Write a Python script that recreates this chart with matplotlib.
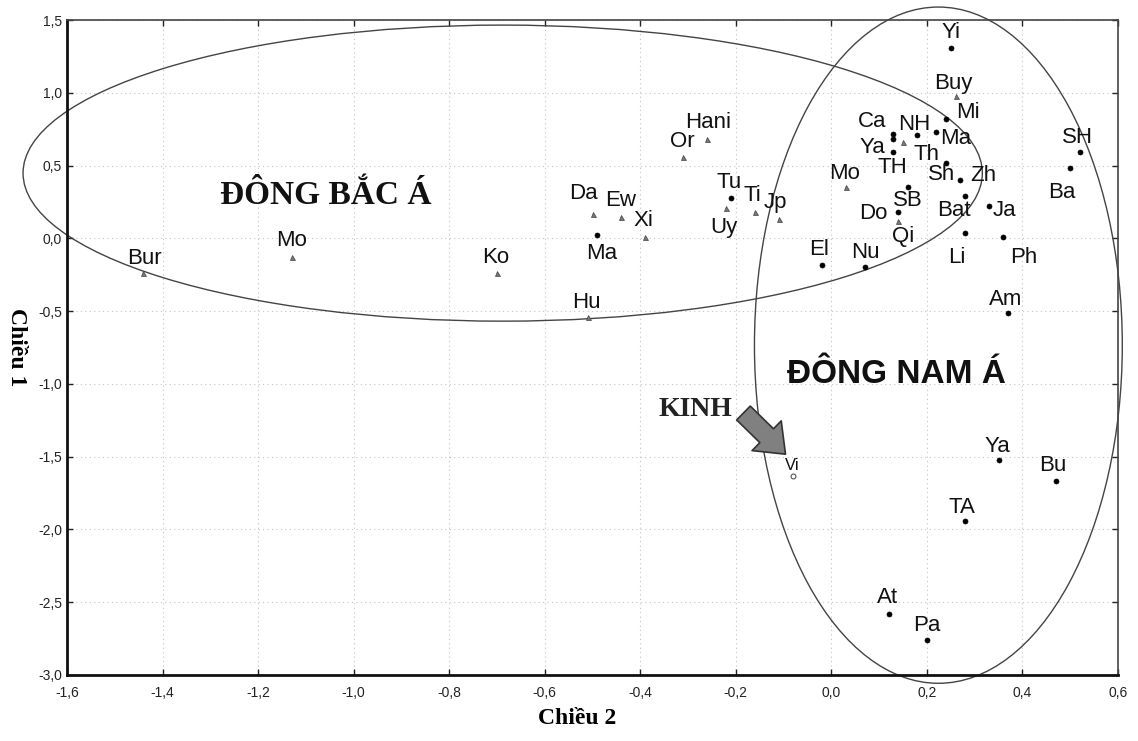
import matplotlib
matplotlib.use("Agg")
import matplotlib.pyplot as plt
from matplotlib.patches import Ellipse
from matplotlib.ticker import FuncFormatter, MultipleLocator

# population codes, coordinates on the two MDS dimensions, marker group
names = ["Bur", "Mo", "Ko", "Hu", "Da", "Ew", "Xi", "Ma", "Hani", "Or",
         "Tu", "Uy", "Ti", "Jp",
         "Yi", "Buy", "Mi", "Ca", "NH", "Ma", "Ya", "Th", "TH", "Sh",
         "Zh", "SB", "Bat", "Do", "Qi", "Li", "Nu", "Ja", "Ph", "El",
         "Mo", "SH", "Ba", "Am", "Vi", "Ya", "Bu", "TA", "At", "Pa"]
dim2 = [-1.44, -1.13, -0.70, -0.51, -0.50, -0.44, -0.39, -0.49, -0.26, -0.31,
        -0.21, -0.22, -0.16, -0.11,
        0.25, 0.26, 0.24, 0.13, 0.18, 0.22, 0.13, 0.15, 0.13, 0.24,
        0.27, 0.16, 0.28, 0.14, 0.14, 0.28, 0.07, 0.33, 0.36, -0.02,
        0.03, 0.52, 0.50, 0.37, -0.08, 0.35, 0.47, 0.28, 0.12, 0.20]
dim1 = [-0.24, -0.13, -0.24, -0.54, 0.17, 0.15, 0.01, 0.02, 0.68, 0.56,
        0.28, 0.21, 0.18, 0.13,
        1.31, 0.98, 0.82, 0.72, 0.71, 0.73, 0.68, 0.66, 0.59, 0.52,
        0.40, 0.35, 0.29, 0.18, 0.12, 0.04, -0.20, 0.22, 0.01, -0.18,
        0.35, 0.59, 0.48, -0.51, -1.63, -1.52, -1.67, -1.94, -2.58, -2.76]
group = ["t", "t", "t", "t", "t", "t", "t", "d", "t", "t",
         "d", "t", "t", "t",
         "d", "t", "d", "d", "d", "d", "d", "t", "d", "d",
         "d", "d", "d", "d", "t", "d", "d", "d", "d", "d",
         "t", "d", "d", "d", "v", "d", "d", "d", "d", "d"]

# label placement around each point (pixels)
label_off = [(1, 17), (0, 19), (-1, 18), (-1, 17), (-9, 23), (-1, 18), (-2, 19),
             (4, -16), (1, 19), (-1, 18), (-2, 18), (-2, -17), (-3, 19), (-3, 19),
             (0, 18), (-2, 15), (22, 9), (-21, 15), (-3, 13), (19, -4), (-21, -6),
             (23, -10), (-1, -13), (-4, -9), (23, 7), (0, -11), (-11, -12),
             (-25, 1), (5, -13), (-8, -22), (1, 17), (15, -2), (20, -18),
             (-3, 18), (-1, 16), (-2, 17), (-8, -22), (-2, 16), (-1, 12),
             (-1, 16), (-3, 18), (-3, 16), (-1, 19), (0, 17)]

styles = {
    "t": dict(marker="^", ms=3.6, mfc="#777777", mec="#444444", mew=0.5),
    "d": dict(marker="o", ms=3.6, mfc="black", mec="black", mew=0.5),
    "v": dict(marker="o", ms=3.5, mfc="white", mec="#555555", mew=0.8),
}

sans = "Liberation Sans"
serif = "Liberation Serif"

fig = plt.figure(figsize=(11.38, 7.41), dpi=100)
ax = fig.add_axes([67 / 1138, 66 / 741, 1051 / 1138, 655 / 741])
ax.set_xlim(-1.6, 0.6)
ax.set_ylim(-3.0, 1.5)

for n, x, y, g, off in zip(names, dim2, dim1, group, label_off):
    ax.plot(x, y, ls="none", zorder=3, **styles[g])
    ax.annotate(n, (x, y), xytext=off, textcoords="offset pixels",
                ha="center", va="center_baseline", family=sans,
                fontsize=12 if g == "v" else 16, color="#111111", zorder=4)

# cluster ellipses
ax.add_patch(Ellipse((-0.688, 0.448), 2.008, 2.034, fill=False,
                     ec="#444444", lw=1.0, clip_on=False))
ax.add_patch(Ellipse((0.224, -0.734), 0.77, 4.646, fill=False,
                     ec="#444444", lw=1.0, clip_on=False))

ax.text(-1.058, 0.318, "ĐÔNG BẮC Á", family=serif, fontweight="bold",
        fontsize=24, ha="center", va="center_baseline", color="#111111")
ax.text(0.136, -0.912, "ĐÔNG NAM Á", family=sans, fontweight="bold",
        fontsize=24, ha="center", va="center_baseline", color="#111111")
ax.text(-0.284, -1.153, "KINH", family=serif, fontweight="bold",
        fontsize=20, ha="center", va="center_baseline", color="#222222")
ax.annotate("", xy=(-0.096, -1.483), xytext=(-0.184, -1.200),
            arrowprops=dict(arrowstyle="simple,head_length=19,head_width=30,tail_width=14",
                            mutation_scale=1, fc="#808080", ec="#333333", lw=1.2,
                            shrinkA=0, shrinkB=0))

ax.xaxis.set_major_locator(MultipleLocator(0.2))
ax.yaxis.set_major_locator(MultipleLocator(0.5))
comma = FuncFormatter(lambda v, p: ("%.1f" % v).replace(".", ",").replace("-0,0", "0,0"))
ax.xaxis.set_major_formatter(comma)
ax.yaxis.set_major_formatter(comma)
ax.tick_params(direction="in", length=4, width=1, top=True, right=True,
               labelsize=10, colors="#222222")
ax.tick_params(axis="x", pad=8)
for lab in ax.get_xticklabels() + ax.get_yticklabels():
    lab.set_family(sans)

ax.grid(True, ls=(0, (1, 3)), color="#c4c4c4", lw=0.8)
ax.set_axisbelow(True)
for side in ["left", "bottom"]:
    ax.spines[side].set_linewidth(2.0)
    ax.spines[side].set_color("#111111")
for side in ["top", "right"]:
    ax.spines[side].set_linewidth(1.2)
    ax.spines[side].set_color("#444444")

fig.text(577 / 1138, 1 - 718 / 741, "Chiều 2", family=serif, fontweight="bold",
         fontsize=17, ha="center", va="center")
fig.text(16 / 1138, 1 - 347 / 741, "Chiều 1", family=serif, fontweight="bold",
         fontsize=17, ha="center", va="center", rotation=270)

fig.savefig("out.png", dpi=100)
